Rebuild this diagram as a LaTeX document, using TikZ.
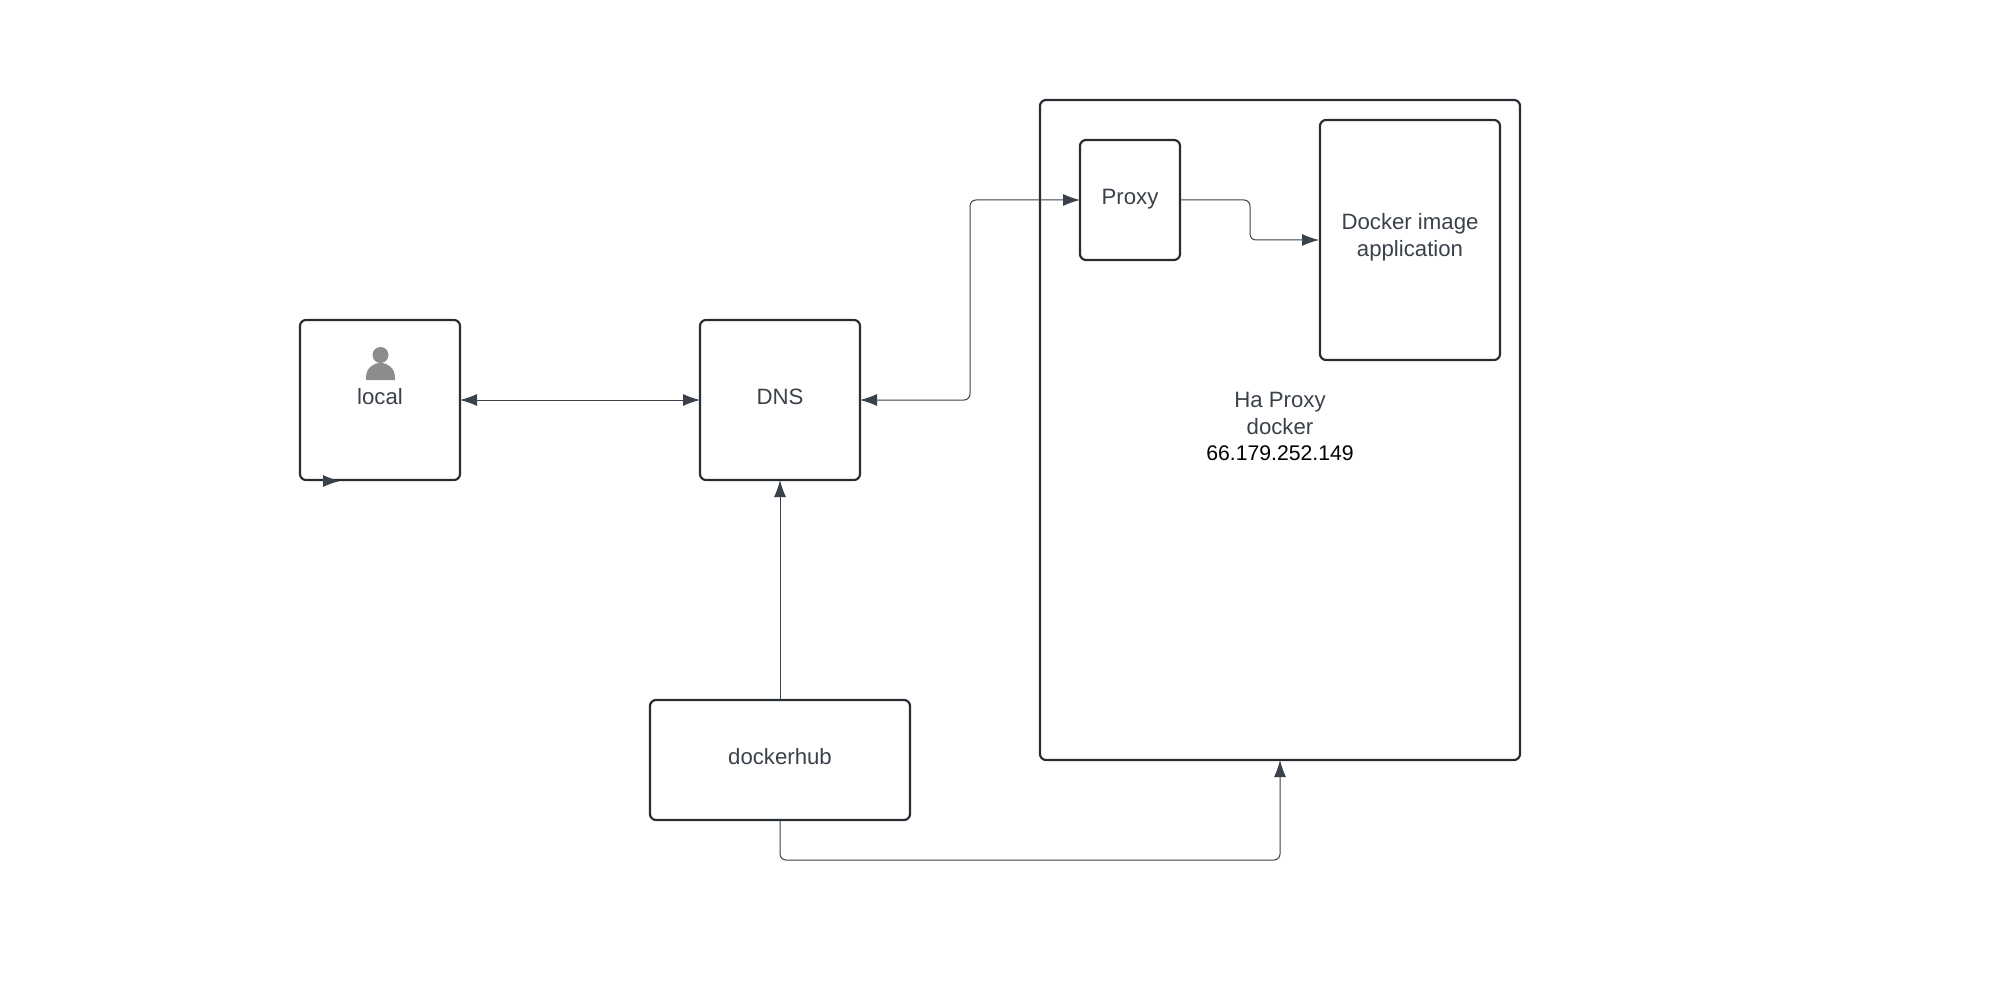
\documentclass[tikz,border=0pt]{standalone}
\usepackage{fontspec}
\setmainfont{Liberation Sans}
\usetikzlibrary{arrows.meta}
\definecolor{trazo}{HTML}{282C33}
\definecolor{linea}{HTML}{3A414A}
\newcommand{\lowstrut}[1]{\rule[-#1pt]{0pt}{#1pt}}
\tikzset{
    caja/.style={draw=trazo,line width=2.2pt,outer sep=0pt,rounded corners=6pt,text=linea,align=center,
        font=\fontsize{22.2pt}{26.5pt}\selectfont},
    una/.style={caja,text height=16pt,text depth=8pt},
    flecha/.style={draw=linea,line width=1pt,rounded corners=6pt,
        -{Latex[length=17pt,width=12pt]}},
    doble/.style={flecha,{Latex[length=17pt,width=12pt]}-{Latex[length=17pt,width=12pt]}}
}
\begin{document}
\begin{tikzpicture}[x=1pt,y=-1pt]
    \useasboundingbox (0,0) rectangle (2000,1000);

    %Cajas
    \node[una,minimum width=160pt,minimum height=160pt] (local) at (380,400) {local};
    \node[una,minimum width=160pt,minimum height=160pt] (dns) at (780,400) {DNS};
    \node[una,minimum width=260pt,minimum height=120pt] (hub) at (780,760) {dockerhub};
    \node[caja,minimum width=480pt,minimum height=660pt] (haproxy) at (1280,430)
        {Ha Proxy\\docker\\\textcolor{black}{\fontsize{21.2pt}{26.5pt}\selectfont 66.179.252.149}\lowstrut{7}};
    \node[una,text depth=6pt,minimum width=100pt,minimum height=120pt] (proxy) at (1130,200) {Proxy};
    \node[caja,minimum width=180pt,minimum height=240pt] (image) at (1410,240)
        {Docker image\\application\lowstrut{10}};

    %Persona
    \fill[gray!90] (380.5,355) circle (8pt);
    \fill[gray!90] (366,380) -- (366,378) .. controls (366,368) and (373,363) .. (380.5,363)
        .. controls (388,363) and (395,368) .. (395,378) -- (395,380) -- cycle;

    %Codos
    \coordinate (codoA) at (970,300);
    \coordinate (codoB) at (1250,220);
    \coordinate (codoC) at (1030,860);
    \coordinate (puntaA) at (323,481);
    \coordinate (puntaB) at (340,481);

    %Conectores
    \draw[doble] (local.east) -- (dns.west);
    \draw[doble] (dns.east) -| (codoA) |- (proxy.west);
    \draw[flecha,shorten >=1pt] (proxy.east) -| (codoB) |- (image.west);
    \draw[flecha] (hub.north) -- (dns.south);
    \draw[flecha] (hub.south) |- (codoC) -| (haproxy.south);
    \draw[flecha] (puntaA) -- (puntaB);
\end{tikzpicture}
\end{document}
